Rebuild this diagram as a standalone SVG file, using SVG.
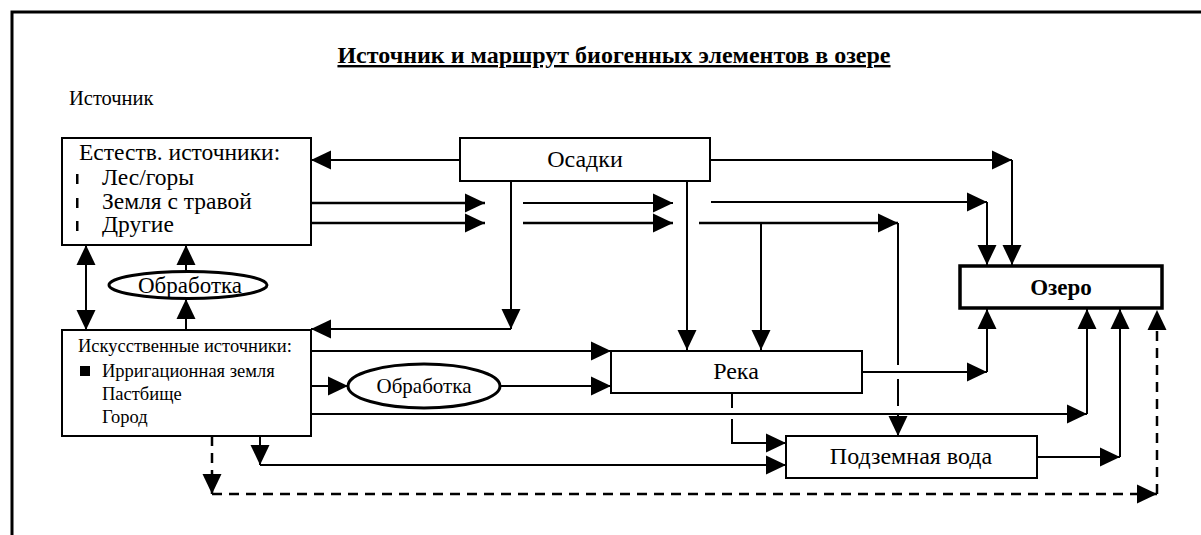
<svg xmlns="http://www.w3.org/2000/svg" width="1201" height="535" viewBox="0 0 1201 535" font-family="'Liberation Serif', 'Times New Roman', serif">
<style>
text{font-family:"Liberation Serif","Times New Roman",serif;fill:#000}
.box{fill:#fff;stroke:#000;stroke-width:2}
.bold{fill:#fff;stroke:#000;stroke-width:3.5}
.ell{fill:#fff;stroke:#000;stroke-width:3}
.c{fill:none;stroke:#000;stroke-width:2}
.d{fill:none;stroke:#000;stroke-width:2.5;stroke-dasharray:10,7}
.a{marker-end:url(#ah)}
.m{font-size:24px}
.n{font-size:23.5px}
.s{font-size:18.5px}
.e{font-size:21px}
</style>
<defs>
<marker id="ah" markerUnits="userSpaceOnUse" markerWidth="20" markerHeight="20" refX="20" refY="10" orient="auto-start-reverse" viewBox="0 0 20 20">
<path d="M0,0.5 L20,10 L0,19.5 z" fill="#000"/>
</marker>
</defs>
<path d="M12,535 L12,12 L1201,12" fill="none" stroke="#000" stroke-width="3"/>
<text x="614" y="63" text-anchor="middle" font-size="24" font-weight="bold" text-decoration="underline">Источник и маршрут биогенных элементов в озере</text>
<text x="69" y="105" font-size="20.5">Источник</text>

<g id="connectors">
<line class="c a" x1="460" y1="160" x2="311" y2="160"/>
<line class="c a" x1="311" y1="203" x2="485" y2="203" style="stroke-width:2.5"/>
<line class="c a" x1="311" y1="223" x2="485" y2="223" style="stroke-width:2.5"/>
<line class="c a" x1="523" y1="203" x2="673" y2="203"/>
<line class="c a" x1="523" y1="223" x2="673" y2="223" style="stroke-width:2.5"/>
<line class="c a" x1="511" y1="181" x2="511" y2="329"/>
<line class="c a" x1="511" y1="329" x2="311" y2="329"/>
<line class="c a" x1="687" y1="181" x2="687" y2="350"/>
<line class="c a" x1="710" y1="160" x2="1012" y2="160"/>
<line class="c a" x1="1012" y1="160" x2="1012" y2="265"/>
<line class="c a" x1="711" y1="202" x2="987" y2="202"/>
<line class="c a" x1="987" y1="202" x2="987" y2="265"/>
<line class="c a" x1="699" y1="223" x2="898" y2="223" style="stroke-width:2.5"/>
<line class="c" x1="898" y1="223" x2="898" y2="365"/>
<line class="c" x1="898" y1="379" x2="898" y2="406"/>
<line class="c a" x1="898" y1="414" x2="898" y2="436"/>
<line class="c a" x1="761" y1="223" x2="761" y2="350"/>
<line class="c" x1="86" y1="245" x2="86" y2="330" style="marker-start:url(#ah);marker-end:url(#ah)"/>
<line class="c a" x1="186" y1="330" x2="186" y2="299"/>
<line class="c a" x1="186" y1="272" x2="186" y2="245"/>
<line class="c a" x1="311" y1="351" x2="611" y2="351"/>
<line class="c a" x1="311" y1="386" x2="348" y2="386"/>
<line class="c a" x1="501" y1="386" x2="611" y2="386"/>
<line class="c a" x1="311" y1="414" x2="1087" y2="414"/>
<line class="c a" x1="1087" y1="414" x2="1087" y2="309"/>
<line class="c a" x1="260" y1="436" x2="260" y2="465"/>
<line class="c a" x1="260" y1="465" x2="786" y2="465"/>
<line class="c" x1="732" y1="393" x2="732" y2="408"/>
<polyline class="c a" points="732,419 732,443 786,443"/>
<line class="c a" x1="862" y1="372" x2="987" y2="372"/>
<line class="c a" x1="987" y1="372" x2="987" y2="309"/>
<line class="c a" x1="1037" y1="457" x2="1120" y2="457"/>
<line class="c a" x1="1120" y1="457" x2="1120" y2="309"/>
<line class="d a" x1="168" y1="419" x2="212" y2="419"/>
<line class="d a" x1="212" y1="419" x2="212" y2="494"/>
<line class="d a" x1="212" y1="494" x2="1157" y2="494"/>
<line class="d a" x1="1157" y1="494" x2="1157" y2="310"/>
</g>

<g id="natural">
<rect class="box" x="62" y="138" width="249" height="107"/>
<text class="n" x="79" y="160">Естеств. источники:</text>
<rect x="76" y="174" width="2.5" height="10"/>
<rect x="76" y="198" width="2.5" height="10"/>
<rect x="76" y="221" width="2.5" height="10"/>
<text class="n" x="102" y="185">Лес/горы</text>
<text class="n" x="102" y="209">Земля с травой</text>
<text class="n" x="102" y="232">Другие</text>
</g>

<g id="precip">
<rect class="box" x="460" y="138" width="250" height="43"/>
<text class="m" x="585" y="167" text-anchor="middle">Осадки</text>
</g>

<g id="treat1">
<ellipse class="ell" cx="188" cy="285" rx="79" ry="13.5"/>
<text x="190" y="293" font-size="23" text-anchor="middle">Обработка</text>
</g>

<g id="artificial">
<rect class="box" x="62" y="330" width="249" height="106"/>
<text class="s" x="78" y="352">Искусственные источники:</text>
<rect x="80" y="366" width="10" height="10"/>
<text class="s" x="102" y="377">Ирригационная земля</text>
<text class="s" x="102" y="400">Пастбище</text>
<text class="s" x="102" y="423">Город</text>
</g>

<g id="treat2">
<ellipse class="ell" cx="424" cy="386" rx="76" ry="22"/>
<text class="e" x="424" y="393" text-anchor="middle">Обработка</text>
</g>

<g id="river">
<rect class="box" x="611" y="351" width="251" height="42"/>
<text class="m" x="736" y="379" text-anchor="middle">Река</text>
</g>

<g id="ground">
<rect class="box" x="786" y="436" width="251" height="42"/>
<text class="m" x="911" y="464" text-anchor="middle">Подземная вода</text>
</g>

<g id="lake">
<rect class="bold" x="960" y="266" width="202" height="42"/>
<text x="1061" y="295" font-size="23" font-weight="bold" text-anchor="middle">Озеро</text>
</g>
</svg>
